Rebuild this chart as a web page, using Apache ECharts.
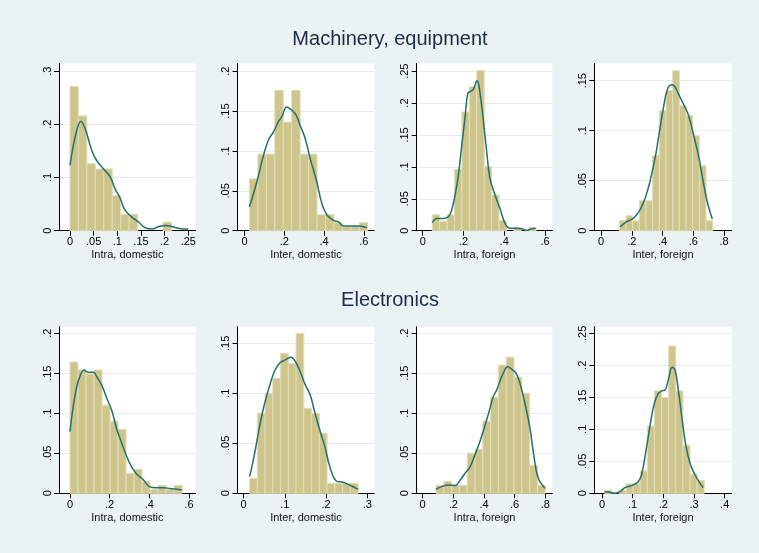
<!DOCTYPE html>
<html>
<head>
<meta charset="utf-8">
<script src="https://cdn.jsdelivr.net/npm/echarts@6/dist/echarts.min.js"></script>
<style>
  html, body { margin: 0; padding: 0; background: #eaf2f3; }
  #chart { width: 759px; height: 553px; }
</style>
</head>
<body>
<div id="chart"></div>
<script>
  // group titles and panel x-axis titles
  const groupTitles = ['Machinery, equipment', 'Electronics']
  const panelNames = ['Intra, domestic', 'Inter, domestic', 'Intra, foreign', 'Inter, foreign']

  // histogram bins: first bin start and bin width, per panel (machinery 1-4, electronics 1-4)
  const binStart = [0, 0.025, 0.047, 0.119, 0, 0.0146, 0.087, 0.0087]
  const binWidth = [0.01786, 0.0425, 0.0364, 0.0434, 0.0404, 0.0188, 0.0509, 0.0232]

  // bar heights (fraction)
  const m1Hist = [0.271, 0.216, 0.126, 0.116, 0.116, 0.066, 0.031, 0.031, 0, 0, 0, 0.016, 0, 0]
  const m2Hist = [0.065, 0.096, 0.096, 0.176, 0.136, 0.176, 0.096, 0.096, 0.02, 0.02, 0.01, 0.005, 0.005, 0.01]
  const m3Hist = [0.025, 0.015, 0.025, 0.096, 0.186, 0.226, 0.251, 0.101, 0.056, 0.016, 0, 0.005, 0, 0.005]
  const m4Hist = [0.01, 0.015, 0.01, 0.03, 0.03, 0.075, 0.12, 0.14, 0.16, 0.125, 0.115, 0.095, 0.065, 0.01]
  const e1Hist = [0.164, 0.154, 0.149, 0.154, 0.11, 0.09, 0.08, 0.025, 0.03, 0.015, 0.005, 0.01, 0.005, 0.01]
  const e2Hist = [0.015, 0.08, 0.1, 0.115, 0.14, 0.13, 0.16, 0.085, 0.08, 0.06, 0.01, 0.01, 0.01, 0.01]
  const e3Hist = [0.01, 0.015, 0.01, 0.01, 0.05, 0.055, 0.09, 0.12, 0.16, 0.17, 0.145, 0.125, 0.035, 0.01]
  const e4Hist = [0.005, 0, 0.005, 0.015, 0.015, 0.035, 0.105, 0.16, 0.15, 0.23, 0.16, 0.075, 0.03, 0.02]

  // kernel density curves [x, y]
  const m1Dens = [[0, 0.123], [0.012, 0.18], [0.023, 0.206], [0.032, 0.192], [0.046, 0.151], [0.056, 0.1325], [0.07, 0.117], [0.085, 0.101], [0.095, 0.079], [0.106, 0.061], [0.116, 0.039], [0.13, 0.026], [0.144, 0.017], [0.158, 0.006], [0.173, 0.003], [0.187, 0.0075], [0.201, 0.01], [0.215, 0.008], [0.232, 0.004], [0.25, 0.003]]
  const m2Dens = [[0.025, 0.03], [0.062, 0.061], [0.096, 0.095], [0.121, 0.114], [0.146, 0.124], [0.171, 0.137], [0.188, 0.143], [0.213, 0.155], [0.238, 0.151], [0.26, 0.145], [0.28, 0.132], [0.305, 0.116], [0.33, 0.091], [0.364, 0.061], [0.389, 0.034], [0.414, 0.02], [0.448, 0.013], [0.473, 0.011], [0.498, 0.006], [0.54, 0.006], [0.573, 0.006], [0.615, 0.004]]
  const m3Dens = [[0.047, 0.0125], [0.069, 0.019], [0.101, 0.019], [0.126, 0.022], [0.142, 0.032], [0.159, 0.056], [0.175, 0.087], [0.191, 0.1315], [0.208, 0.178], [0.221, 0.215], [0.232, 0.218], [0.245, 0.22], [0.257, 0.228], [0.265, 0.235], [0.273, 0.232], [0.289, 0.197], [0.302, 0.16], [0.314, 0.124], [0.33, 0.082], [0.355, 0.056], [0.379, 0.035], [0.404, 0.0115], [0.428, 0.004], [0.453, 0.004], [0.486, 0.003], [0.51, 0.0005], [0.535, 0.003], [0.554, 0.004]]
  const m4Dens = [[0.124, 0.004], [0.167, 0.009], [0.199, 0.0113], [0.221, 0.014], [0.253, 0.0207], [0.286, 0.032], [0.318, 0.049], [0.351, 0.072], [0.377, 0.096], [0.405, 0.122], [0.431, 0.141], [0.459, 0.146], [0.481, 0.144], [0.503, 0.137], [0.535, 0.127], [0.568, 0.116], [0.6, 0.097], [0.633, 0.076], [0.661, 0.052], [0.691, 0.029], [0.724, 0.0117]]
  const e1Dens = [[0, 0.077], [0.017, 0.11], [0.034, 0.133], [0.05, 0.146], [0.071, 0.154], [0.092, 0.151], [0.118, 0.151], [0.134, 0.146], [0.16, 0.135], [0.185, 0.119], [0.21, 0.104], [0.235, 0.081], [0.261, 0.0625], [0.286, 0.046], [0.311, 0.033], [0.336, 0.024], [0.37, 0.017], [0.403, 0.008], [0.437, 0.007], [0.471, 0.007], [0.504, 0.006], [0.538, 0.005], [0.563, 0.004]]
  const e2Dens = [[0.0146, 0.0167], [0.026, 0.038], [0.038, 0.065], [0.05, 0.088], [0.063, 0.107], [0.075, 0.122], [0.087, 0.13], [0.099, 0.133], [0.115, 0.136], [0.124, 0.133], [0.136, 0.123], [0.148, 0.11], [0.162, 0.098], [0.172, 0.082], [0.185, 0.063], [0.197, 0.047], [0.209, 0.027], [0.225, 0.0123], [0.241, 0.011], [0.258, 0.008], [0.278, 0.004]]
  const e3Dens = [[0.087, 0.005], [0.124, 0.0083], [0.167, 0.0104], [0.211, 0.0096], [0.243, 0.016], [0.276, 0.025], [0.309, 0.033], [0.341, 0.048], [0.374, 0.065], [0.407, 0.085], [0.439, 0.106], [0.461, 0.121], [0.483, 0.129], [0.504, 0.14], [0.526, 0.15], [0.554, 0.158], [0.58, 0.155], [0.609, 0.15], [0.635, 0.1375], [0.667, 0.1125], [0.7, 0.081], [0.726, 0.046], [0.754, 0.019], [0.798, 0.006]]
  const e4Dens = [[0.0087, 0.0026], [0.026, 0.0016], [0.042, 0.0002], [0.059, 0.0026], [0.075, 0.0089], [0.097, 0.012], [0.118, 0.018], [0.129, 0.029], [0.143, 0.065], [0.157, 0.107], [0.171, 0.141], [0.184, 0.156], [0.195, 0.16], [0.205, 0.161], [0.216, 0.177], [0.229, 0.197], [0.238, 0.193], [0.249, 0.161], [0.26, 0.12], [0.273, 0.0755], [0.287, 0.047], [0.303, 0.029], [0.32, 0.0156], [0.33, 0.009]]

  // tick labels
  const xTicks = [
    [0, 0.05, 0.1, 0.15, 0.2, 0.25], [0, 0.2, 0.4, 0.6], [0, 0.2, 0.4, 0.6], [0, 0.2, 0.4, 0.6, 0.8],
    [0, 0.2, 0.4, 0.6], [0, 0.1, 0.2, 0.3], [0, 0.2, 0.4, 0.6, 0.8], [0, 0.1, 0.2, 0.3, 0.4]
  ]
  const yTicks = [
    [0, 0.1, 0.2, 0.3], [0, 0.05, 0.1, 0.15, 0.2], [0, 0.05, 0.1, 0.15, 0.2, 0.25], [0, 0.05, 0.1, 0.15],
    [0, 0.05, 0.1, 0.15, 0.2], [0, 0.05, 0.1, 0.15], [0, 0.05, 0.1, 0.15, 0.2], [0, 0.05, 0.1, 0.15, 0.2, 0.25]
  ]

  const hists = [m1Hist, m2Hist, m3Hist, m4Hist, e1Hist, e2Hist, e3Hist, e4Hist]
  const dens = [m1Dens, m2Dens, m3Dens, m4Dens, e1Dens, e2Dens, e3Dens, e4Dens]

  // layout (pixels) and axis ranges
  const colLeft = [59, 237.5, 416.7, 594.3]
  const colWidth = [136.7, 136.8, 135.6, 137.4]
  const rowTop = [63.5, 326.7]
  const rowHeight = [167.2, 166.6]
  const xRange = [[-0.0232, 0.2656], [-0.0352, 0.653], [-0.0294, 0.636], [-0.0436, 0.85],
    [-0.0555, 0.634], [-0.0146, 0.317], [-0.039, 0.8457], [-0.025, 0.4228]]
  const yMax = [0.3144, 0.2096, 0.262, 0.1672, 0.208, 0.1666, 0.208, 0.2603]

  const FONT = 'Liberation Sans, Arial, sans-serif'
  const BAR_FILL = '#cdc58b'
  const BAR_LINE = '#e2deb9'
  const DENS_COLOR = '#23706d'

  function fmt(v) {
    if (Math.abs(v) < 1e-9) return '0'
    return String(+v.toFixed(3)).replace(/^0\./, '.')
  }

  function renderBar(params, api) {
    const h = api.value(2)
    if (!h) return null
    const p0 = api.coord([api.value(0), h])
    const p1 = api.coord([api.value(1), 0])
    return {
      type: 'rect',
      shape: { x: p0[0], y: p0[1], width: p1[0] - p0[0], height: p1[1] - p0[1] },
      style: { fill: BAR_FILL, stroke: BAR_LINE, lineWidth: 1 }
    }
  }

  const grid = []
  const xAxis = []
  const yAxis = []
  const series = []

  for (let i = 0; i < 8; i++) {
    const row = Math.floor(i / 4)
    const col = i % 4
    grid.push({
      left: colLeft[col], top: rowTop[row], width: colWidth[col], height: rowHeight[row],
      show: true, backgroundColor: '#ffffff', borderWidth: 0
    })
    xAxis.push({
      type: 'value', gridIndex: i, min: xRange[i][0], max: xRange[i][1],
      name: panelNames[col], nameLocation: 'middle', nameGap: 19,
      nameTextStyle: { fontFamily: FONT, fontSize: 11, color: '#111' },
      axisLine: { show: true, onZero: false, lineStyle: { color: '#000', width: 1 } },
      axisTick: { show: true, length: 5, customValues: xTicks[i], lineStyle: { color: '#000' } },
      axisLabel: { customValues: xTicks[i], formatter: fmt, margin: 6, fontFamily: FONT, fontSize: 11, color: '#000' },
      splitLine: { show: false }
    })
    yAxis.push({
      type: 'value', gridIndex: i, min: 0, max: yMax[i],
      axisLine: { show: true, onZero: false, lineStyle: { color: '#000', width: 1 } },
      axisTick: { show: true, length: 5, customValues: yTicks[i], lineStyle: { color: '#000' } },
      axisLabel: { customValues: yTicks[i], formatter: fmt, rotate: 90, margin: 6, fontFamily: FONT, fontSize: 11, color: '#000' },
      splitLine: { show: true, lineStyle: { color: '#e4ecee', width: 1 } }
    })
    const bars = hists[i].map((h, k) => [binStart[i] + k * binWidth[i], binStart[i] + (k + 1) * binWidth[i], h])
    series.push({
      type: 'custom', xAxisIndex: i, yAxisIndex: i, renderItem: renderBar,
      encode: { x: [0, 1], y: 2 }, data: bars, silent: true, z: 2
    })
    series.push({
      type: 'line', xAxisIndex: i, yAxisIndex: i, data: dens[i], smooth: 0.4,
      symbol: 'none', lineStyle: { color: DENS_COLOR, width: 1.5 }, z: 3, silent: true
    })
  }

  const chart = echarts.init(document.getElementById('chart'), null, { renderer: 'canvas' })
  chart.setOption({
    backgroundColor: '#eaf2f3',
    animation: false,
    title: [
      { text: groupTitles[0], left: 385, top: 24, textAlign: 'center',
        textStyle: { fontFamily: FONT, fontSize: 20, fontWeight: 'normal', color: '#1c2b4a' } },
      { text: groupTitles[1], left: 385, top: 285, textAlign: 'center',
        textStyle: { fontFamily: FONT, fontSize: 20, fontWeight: 'normal', color: '#1c2b4a' } }
    ],
    grid,
    xAxis,
    yAxis,
    series
  })
</script>
</body>
</html>
